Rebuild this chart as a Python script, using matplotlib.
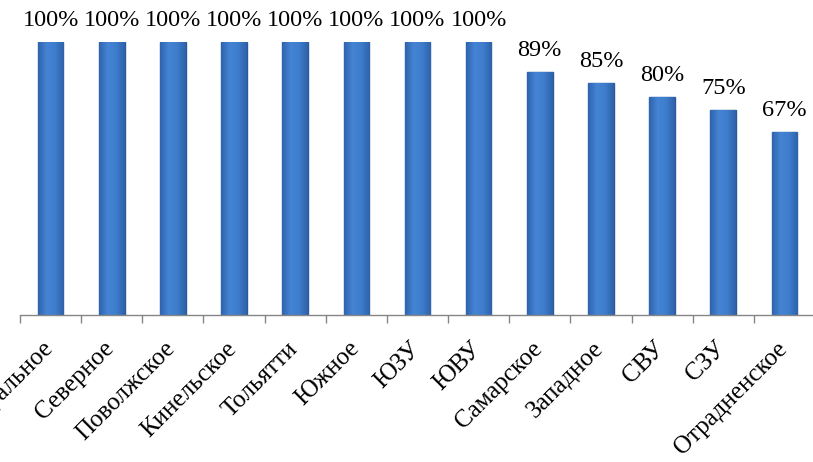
import numpy as np
import matplotlib
matplotlib.use("Agg")
import matplotlib.pyplot as plt
import matplotlib.transforms as mtransforms
from matplotlib.colors import LinearSegmentedColormap

# ── данные ───────────────────────────────────────────────
categories = [
    "Центральное", "Северное", "Поволжское", "Кинельское", "Тольятти",
    "Южное", "ЮЗУ", "ЮВУ", "Самарское", "Западное", "СВУ", "СЗУ",
    "Отрадненское",
]
shares = [1.00, 1.00, 1.00, 1.00, 1.00, 1.00, 1.00, 1.00,
          0.89, 0.85, 0.80, 0.75, 0.67]

plt.rcParams["font.family"] = ["Liberation Serif", "DejaVu Serif"]

W, H = 813, 462
fig = plt.figure(figsize=(W / 100, H / 100), dpi=100)
ax = fig.add_axes([20 / W, 147 / H, 795 / W, 273 / H])

x = np.arange(len(categories))
bars = ax.bar(x, shares, width=0.42, color="#3B78C3",
              edgecolor="#2A5A9A", linewidth=1.0, zorder=2)

# горизонтальный градиент внутри столбиков
grad_cmap = LinearSegmentedColormap.from_list(
    "bar", ["#2F64AE", "#4584D4", "#3D7DCC", "#2F62AA"])
grad = np.linspace(0, 1, 64).reshape(1, -1)
for b in bars:
    x0, y0 = b.get_x(), b.get_y()
    im = ax.imshow(grad, cmap=grad_cmap, aspect="auto",
                   extent=(x0, x0 + b.get_width(), y0, y0 + b.get_height()),
                   zorder=2.5)
    im.set_clip_path(b)

# подписи значений
for xi, v in zip(x, shares):
    ax.annotate(f"{v * 100:.0f}%", xy=(xi, v), xytext=(0, 11.5),
                textcoords="offset points", ha="center", va="baseline",
                fontsize=17.5, color="#000000", annotation_clip=False)

ax.set_xlim(-0.5, len(categories) - 0.5)
ax.set_ylim(0, 1)

# подписи категорий по центрам, засечки — на границах
ax.set_xticks(x)
ax.set_xticklabels(categories, rotation=45, ha="right", fontsize=18)
ax.tick_params(axis="x", which="major", length=0, pad=14)
ax.set_xticks(np.arange(len(categories) + 1) - 0.5, minor=True)
ax.tick_params(axis="x", which="minor", length=6, width=1, color="#868686")

shift = mtransforms.ScaledTranslation(7 / 100, -3 / 100, fig.dpi_scale_trans)
for lbl in ax.get_xticklabels():
    lbl.set_transform(lbl.get_transform() + shift)

ax.set_yticks([])
for s in ("left", "right", "top"):
    ax.spines[s].set_visible(False)
ax.spines["bottom"].set_color("#868686")
ax.spines["bottom"].set_linewidth(1)

fig.savefig("out.png", dpi=100)
